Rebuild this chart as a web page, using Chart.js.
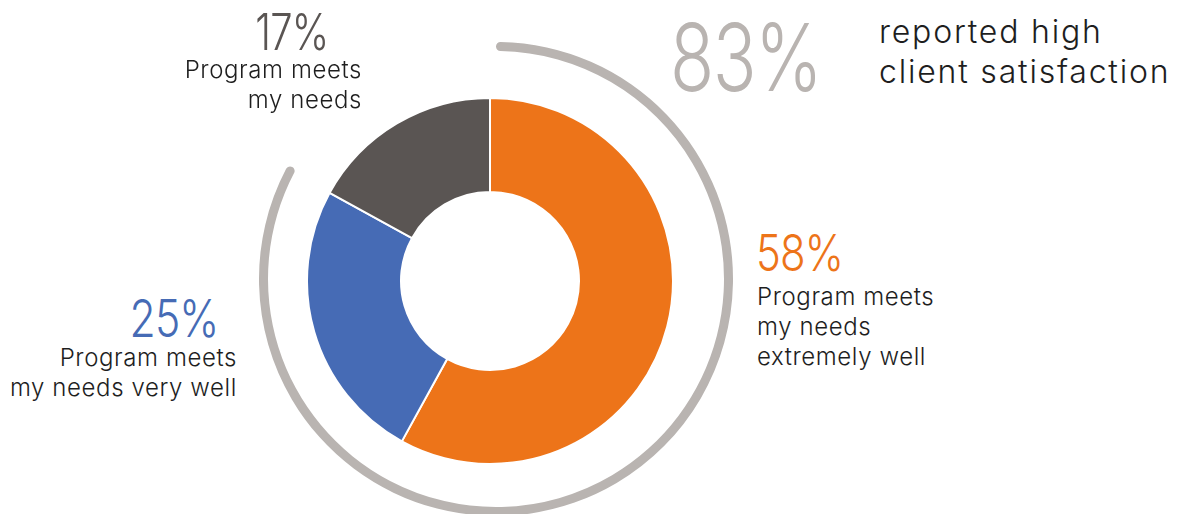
<!DOCTYPE html>
<html>
<head>
<meta charset="utf-8">
<script src="https://cdn.jsdelivr.net/npm/chart.js@4/dist/chart.umd.min.js"></script>
<style>
  html, body { margin: 0; padding: 0; background: #fff; width: 1184px; height: 514px; overflow: hidden; }
  body { position: relative; font-family: "Inter", "Lato", sans-serif; }
  canvas { position: absolute; }
  .t { position: absolute; white-space: nowrap; color: #1e1e1e; }
  .big { font-weight: 300; letter-spacing: -1px; }
  .lbl { font-size: 24px; line-height: 30px; font-weight: 300; letter-spacing: 0.6px; }
</style>
</head>
<body>
<canvas id="ring" width="474" height="474" style="left:259px;top:42px;"></canvas>
<canvas id="donut" width="368" height="368" style="left:306px;top:97px;"></canvas>

<div class="t big" id="p17" style="right:855px;top:2px;font-size:50px;color:#5a5553;transform:scaleX(0.8);transform-origin:right center;"></div>
<div class="t lbl" id="l17" style="right:822px;top:55px;text-align:right;"></div>

<div class="t big" id="p83" style="left:670px;top:0px;font-size:94px;color:#b9b4b1;letter-spacing:-2px;transform:scaleX(0.77);transform-origin:left center;"></div>
<div class="t" id="hl" style="left:879px;top:12px;font-size:32px;line-height:40px;letter-spacing:1.8px;font-weight:300;"></div>

<div class="t big" id="p25" style="right:966px;top:287px;font-size:52px;color:#466bb5;transform:scaleX(0.82);transform-origin:right center;"></div>
<div class="t lbl" id="l25" style="right:947px;top:343px;text-align:right;"></div>

<div class="t big" id="p58" style="left:756px;top:222px;font-size:51px;color:#ed7419;transform:scaleX(0.82);transform-origin:left center;"></div>
<div class="t lbl" id="l58" style="left:757px;top:282px;text-align:left;"></div>

<script>
const categories = [
  "Program meets my needs extremely well",
  "Program meets my needs very well",
  "Program meets my needs"
];
const values = [58, 25, 17];
const colors = ["#ed7419", "#466bb5", "#5a5553"];
const satisfied = 83;
const labelLines = [
  ["Program meets", "my needs", "extremely well"],
  ["Program meets", "my needs very well"],
  ["Program meets", "my needs"]
];
const headline = ["reported high", "client satisfaction"];

document.getElementById("p58").textContent = values[0] + "%";
document.getElementById("p25").textContent = values[1] + "%";
document.getElementById("p17").textContent = values[2] + "%";
document.getElementById("p83").textContent = satisfied + "%";
document.getElementById("l58").innerHTML = labelLines[0].join("<br>");
document.getElementById("l25").innerHTML = labelLines[1].join("<br>");
document.getElementById("l17").innerHTML = labelLines[2].join("<br>");
document.getElementById("hl").innerHTML = headline.join("<br>");

new Chart(document.getElementById("donut"), {
  type: "doughnut",
  data: {
    labels: categories,
    datasets: [{
      data: values,
      backgroundColor: colors,
      borderColor: "#ffffff",
      borderWidth: 2
    }]
  },
  options: {
    responsive: false,
    animation: false,
    cutout: 89,
    rotation: 0,
    layout: { padding: 0 },
    plugins: { legend: { display: false }, tooltip: { enabled: false } }
  }
});

new Chart(document.getElementById("ring"), {
  type: "doughnut",
  data: {
    labels: ["High satisfaction", "Other"],
    datasets: [{
      data: [satisfied, 100 - satisfied],
      backgroundColor: ["#b9b4b1", "rgba(0,0,0,0)"],
      borderWidth: 0,
      borderRadius: 5
    }]
  },
  options: {
    responsive: false,
    animation: false,
    cutout: 228,
    rotation: 0,
    layout: { padding: 0 },
    plugins: { legend: { display: false }, tooltip: { enabled: false } }
  }
});
</script>
</body>
</html>
